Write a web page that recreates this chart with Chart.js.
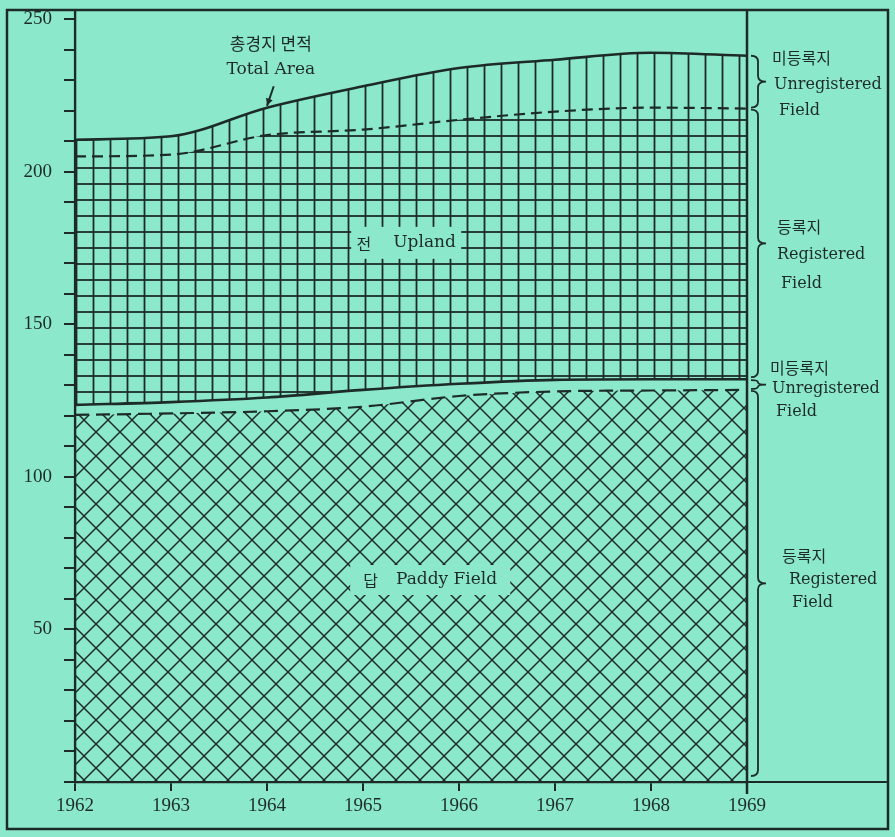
<!DOCTYPE html>
<html><head><meta charset="utf-8">
<script src="https://cdn.jsdelivr.net/npm/chart.js@4.4.0/dist/chart.umd.min.js"></script>
<style>html,body{margin:0;padding:0;background:#8ce8cb;overflow:hidden}#wrap{width:895px;height:837px}</style>
</head><body><div id="wrap"><canvas id="c" width="895" height="837"></canvas></div>
<script>
// ---- data (area in thousand hectares) ----
const years = [1962, 1963, 1964, 1965, 1966, 1967, 1968, 1969];
const paddyRegistered    = [120.3, 120.8, 121.5, 123.0, 126.5, 128.0, 128.3, 128.5];
const paddyUnregistered  = [3.3, 3.7, 4.5, 5.5, 4.0, 3.8, 3.7, 3.5];
const uplandRegistered   = [81.4, 81.1, 86.0, 85.3, 86.5, 87.9, 89.0, 88.7];
const uplandUnregistered = [5.5, 6.0, 9.0, 14.2, 17.0, 17.0, 18.0, 17.3];
const yLabelledTicks = [50, 100, 150, 200, 250];

const BG = '#8ce8cb';
const INK = '#1d2b26';

function makePattern(kind) {
  const c = document.createElement('canvas');
  const w = kind === 'cross' ? 24 : 17;
  const h = kind === 'cross' ? 24 : 16;
  c.width = w; c.height = h;
  const g = c.getContext('2d');
  g.strokeStyle = INK;
  if (kind === 'cross') {
    g.lineWidth = 1.5;
    for (const dx of [-w, 0, w]) {
      g.beginPath(); g.moveTo(dx, 0); g.lineTo(dx + w, h); g.stroke();
      g.beginPath(); g.moveTo(dx + w, 0); g.lineTo(dx, h); g.stroke();
    }
  } else {
    g.lineWidth = 1.8;
    g.beginPath(); g.moveTo(8.5, 0); g.lineTo(8.5, h); g.stroke();
    if (kind === 'grid') {
      g.beginPath(); g.moveTo(0, 8); g.lineTo(w, 8); g.stroke();
    }
  }
  return g.createPattern(c, 'repeat');
}

const pts = arr => arr.map((v, i) => ({ x: years[i], y: v }));

function brace(ctx, x, y1, y2, w) {
  const mid = (y1 + y2) / 2;
  const r = Math.min(6, (y2 - y1) / 4);
  ctx.beginPath();
  ctx.moveTo(x - 7, y1);
  ctx.quadraticCurveTo(x, y1, x, y1 + r);
  ctx.lineTo(x, mid - r);
  ctx.quadraticCurveTo(x, mid, x + w, mid);
  ctx.quadraticCurveTo(x, mid, x, mid + r);
  ctx.lineTo(x, y2 - r);
  ctx.quadraticCurveTo(x, y2, x - 7, y2);
  ctx.stroke();
  return mid;
}

const deco = {
  id: 'deco',
  beforeDraw(chart) {
    const ctx = chart.ctx;
    ctx.save(); ctx.fillStyle = BG; ctx.fillRect(0, 0, chart.width, chart.height); ctx.restore();
  },
  afterDatasetsDraw(chart) {
    const ctx = chart.ctx, xs = chart.scales.x, ys = chart.scales.y;
    const box = (text1, text2, xv, yv, w, h, fontK, fontE, gap) => {
      const cx = xs.getPixelForValue(xv), cy = ys.getPixelForValue(yv);
      ctx.save();
      ctx.fillStyle = BG;
      ctx.fillRect(cx - w / 2, cy - h / 2, w, h);
      ctx.fillStyle = INK; ctx.textBaseline = 'middle'; ctx.textAlign = 'left';
      ctx.font = fontK;
      const k = ctx.measureText(text1).width;
      ctx.font = fontE;
      const e = ctx.measureText(text2).width;
      const tot = k + gap + e;
      ctx.font = fontK; ctx.fillText(text1, cx - tot / 2, cy + 1);
      ctx.font = fontE; ctx.fillText(text2, cx - tot / 2 + k + gap, cy);
      ctx.restore();
    };
    box('전', 'Upland', 1965.45, 176.7, 110, 32, '16px "Noto Sans CJK KR"', '17px "DejaVu Serif"', 22);
    box('답', 'Paddy Field', 1965.7, 66.2, 160, 30, '16px "Noto Sans CJK KR"', '17px "DejaVu Serif"', 18);
  },
  afterDraw(chart) {
    const ctx = chart.ctx, xs = chart.scales.x, ys = chart.scales.y, ca = chart.chartArea;
    ctx.save();
    ctx.strokeStyle = INK; ctx.fillStyle = INK;
    // outer frame
    ctx.lineWidth = 2.5;
    ctx.strokeRect(7, ca.top, 881, 829 - ca.top);
    // y axis line and extended x axis line
    ctx.lineWidth = 2.2;
    ctx.beginPath(); ctx.moveTo(ca.left, ca.top); ctx.lineTo(ca.left, ca.bottom); ctx.stroke();
    ctx.beginPath(); ctx.moveTo(ca.left, ca.bottom); ctx.lineTo(888, ca.bottom); ctx.stroke();
    // right vertical line at the last year
    const xr = xs.getPixelForValue(years[years.length - 1]);
    ctx.lineWidth = 2.5;
    ctx.beginPath(); ctx.moveTo(xr, ca.top); ctx.lineTo(xr, ca.bottom + 12); ctx.stroke();

    // Total area label + arrow
    const tx = xs.getPixelForValue(1964.04);
    ctx.textAlign = 'center'; ctx.textBaseline = 'middle';
    ctx.font = '17px "Noto Sans CJK KR"';
    ctx.fillText('총경지 면적', tx, ys.getPixelForValue(242));
    ctx.font = '17px "DejaVu Serif"';
    ctx.fillText('Total Area', tx, ys.getPixelForValue(233.6));
    const ax1 = xs.getPixelForValue(1964.07), ay1 = ys.getPixelForValue(228);
    const ax2 = xs.getPixelForValue(1964.0), ay2 = ys.getPixelForValue(221.6);
    ctx.lineWidth = 2;
    ctx.beginPath(); ctx.moveTo(ax1, ay1); ctx.lineTo(ax2, ay2); ctx.stroke();
    const ang = Math.atan2(ay2 - ay1, ax2 - ax1);
    ctx.beginPath();
    ctx.moveTo(ax2, ay2);
    ctx.lineTo(ax2 - 8 * Math.cos(ang - 0.45), ay2 - 8 * Math.sin(ang - 0.45));
    ctx.lineTo(ax2 - 8 * Math.cos(ang + 0.45), ay2 - 8 * Math.sin(ang + 0.45));
    ctx.closePath(); ctx.fill();

    // braces on the right, spanning the 1969 values
    const n = years.length - 1;
    const lvl1 = paddyRegistered[n];
    const lvl2 = lvl1 + paddyUnregistered[n];
    const lvl3 = lvl2 + uplandRegistered[n];
    const lvl4 = lvl3 + uplandUnregistered[n];
    const bx = xr + 11;
    ctx.lineWidth = 1.8;
    const m4 = brace(ctx, bx, ys.getPixelForValue(lvl4), ys.getPixelForValue(lvl3) - 1, 8);
    const m3 = brace(ctx, bx, ys.getPixelForValue(lvl3) + 1, ys.getPixelForValue(lvl2) - 2, 8);
    const m2 = brace(ctx, bx, ys.getPixelForValue(lvl2) + 1, ys.getPixelForValue(lvl1) - 1, 8);
    const m1 = brace(ctx, bx, ys.getPixelForValue(lvl1) + 1, ca.bottom - 6, 8);

    ctx.textAlign = 'left';
    const kf = '16px "Noto Sans CJK KR"', ef = '16px "DejaVu Serif"';
    const group = (mid, lines) => {
      for (const [t, f, dx, dy] of lines) { ctx.font = f; ctx.fillText(t, xr + dx, mid + dy); }
    };
    group(m4, [['미등록지', kf, 25, -24], ['Unregistered', ef, 27, 3], ['Field', ef, 32, 29]]);
    group(m3, [['등록지', kf, 30, -16], ['Registered', ef, 30, 11], ['Field', ef, 34, 40]]);
    group(m2, [['미등록지', kf, 23, -17], ['Unregistered', ef, 25, 4], ['Field', ef, 29, 27]]);
    group(m1, [['등록지', kf, 35, -28], ['Registered', ef, 42, -4], ['Field', ef, 45, 19]]);
    ctx.restore();
  }
};

const common = { pointRadius: 0, borderColor: INK, cubicInterpolationMode: 'monotone', borderCapStyle: 'butt' };

new Chart(document.getElementById('c'), {
  type: 'line',
  data: {
    datasets: [
      { ...common, label: '답 등록지', data: pts(paddyRegistered), fill: 'origin',
        backgroundColor: makePattern('cross'), borderWidth: 2.2, borderDash: [14, 7] },
      { ...common, label: '답 미등록지', data: pts(paddyUnregistered), fill: '-1',
        backgroundColor: 'rgba(0,0,0,0)', borderWidth: 2.6 },
      { ...common, label: '전 등록지', data: pts(uplandRegistered), fill: '-1',
        backgroundColor: makePattern('grid'), borderWidth: 2.2, borderDash: [11, 6] },
      { ...common, label: '전 미등록지', data: pts(uplandUnregistered), fill: '-1',
        backgroundColor: makePattern('vert'), borderWidth: 2.6 }
    ]
  },
  options: {
    responsive: false, animation: false, devicePixelRatio: 1,
    layout: { padding: { top: 10, right: 148, left: 0, bottom: 0 } },
    plugins: { legend: { display: false }, tooltip: { enabled: false }, filler: { propagate: false } },
    scales: {
      x: {
        type: 'linear', min: years[0], max: years[years.length - 1],
        afterFit: s => { s.height = 55; s.paddingLeft = 0; s.paddingRight = 0; },
        ticks: { stepSize: 1, callback: v => String(v), color: INK, padding: 4,
                 font: { family: '"Liberation Serif"', size: 19 }, maxRotation: 0 },
        grid: { display: true, drawOnChartArea: false, drawTicks: true, tickLength: 9, color: INK, lineWidth: 2 },
        border: { display: true, color: INK, width: 2.2 }
      },
      y: {
        stacked: true, min: 0, max: 253,
        afterFit: s => { s.width = 75; s.paddingTop = 0; s.paddingBottom = 0; },
        ticks: { stepSize: 10, includeBounds: false, color: INK, padding: 12,
                 font: { family: '"Liberation Serif"', size: 19 },
                 callback: v => yLabelledTicks.includes(v) ? String(v) : '' },
        grid: { display: true, drawOnChartArea: false, drawTicks: true, tickLength: 11, color: INK, lineWidth: 2 },
        border: { display: true, color: INK, width: 2.2 }
      }
    }
  },
  plugins: [deco]
});
</script></body></html>
